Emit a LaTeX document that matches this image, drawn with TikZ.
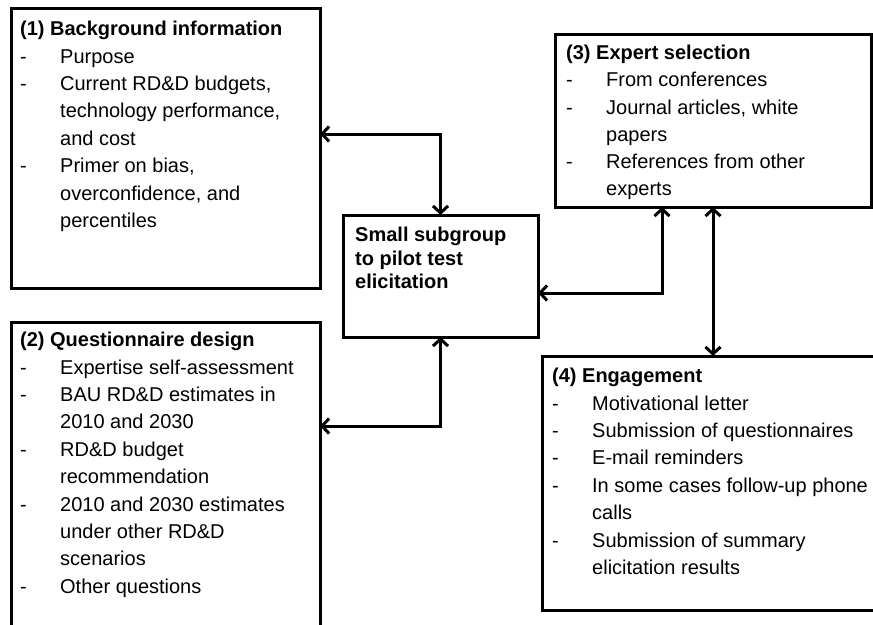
\documentclass[tikz,border=0pt]{standalone}
\usepackage{fontspec}
\setmainfont{Liberation Sans}
\usetikzlibrary{arrows.meta,calc}

% one item of a list, and the continuation of a wrapped item
\newcommand{\itm}[1]{\makebox[40pt][l]{-}#1}
\newcommand{\cnt}[1]{\hspace*{40pt}#1}

\tikzset{
  panel/.style={draw, line width=3pt, inner sep=0pt, outer sep=0pt},
  panetext/.style={anchor=north west, inner sep=0pt, align=left,
    font=\fontsize{20pt}{27.4pt}\selectfont},
  link/.style={line width=3pt,
    {Straight Barb[length=7pt,width=15pt]}-{Straight Barb[length=7pt,width=15pt]}}
}

\begin{document}
\begin{tikzpicture}[x=1pt, y=-1pt]

    % Fix the size of the page
    \clip (0,0) rectangle (873,624);

    % Draw the five boxes
    \node[panel, minimum width=309pt, minimum height=280pt] (bg) at (165.5,148) {};
    \node[panel, minimum width=309pt, minimum height=318pt] (quest) at (165.5,481) {};
    \node[panel, minimum width=316pt, minimum height=173pt] (expert) at (713,120.5) {};
    \node[panel, minimum width=195pt, minimum height=122pt] (pilot) at (440.5,276) {};
    \node[panel, minimum width=342pt, minimum height=254pt] (engage) at (713,483) {};

    % Texts of the boxes
    \node[panetext] (bgtext) at (20,21) {\textbf{(1) Background information}\\
      \itm{Purpose}\\
      \itm{Current RD\&D budgets,}\\
      \cnt{technology performance,}\\
      \cnt{and cost}\\
      \itm{Primer on bias,}\\
      \cnt{overconfidence, and}\\
      \cnt{percentiles}};

    \node[panetext] (questtext) at (20,332) {\textbf{(2) Questionnaire design}\\
      \itm{Expertise self-assessment}\\
      \itm{BAU RD\&D estimates in}\\
      \cnt{2010 and 2030}\\
      \itm{RD\&D budget}\\
      \cnt{recommendation}\\
      \itm{2010 and 2030 estimates}\\
      \cnt{under other RD\&D}\\
      \cnt{scenarios}\\
      \itm{Other questions}};

    \node[panetext, font=\fontsize{20pt}{27.2pt}\selectfont] (experttext) at (566,45) {\textbf{(3) Expert selection}\\
      \itm{From conferences}\\
      \itm{Journal articles, white}\\
      \cnt{papers}\\
      \itm{References from other}\\
      \cnt{experts}};

    \node[panetext, font=\fontsize{20pt}{23.5pt}\selectfont\bfseries] (pilottext) at (355,227) {Small subgroup\\
      to pilot test\\
      elicitation};

    \node[panetext] (engagetext) at (552,368) {\textbf{(4) Engagement}\\
      \itm{Motivational letter}\\
      \itm{Submission of questionnaires}\\
      \itm{E-mail reminders}\\
      \itm{In some cases follow-up phone}\\
      \cnt{calls}\\
      \itm{Submission of summary}\\
      \cnt{elicitation results}};

    % Corners of the connectors
    \coordinate (j1) at (441,134);
    \coordinate (j2) at (662,293);
    \coordinate (j3) at (713,0);
    \coordinate (j4) at (441,426);

    % Draw the connectors
    \draw[link] (bg.east |- j1) -| (pilot.north);
    \draw[link] (pilot.east |- j2) -| (expert.south -| j2);
    \draw[link] (expert.south -| j3) -- (engage.north -| j3);
    \draw[link] (pilot.south) |- (quest.east |- j4);

\end{tikzpicture}
\end{document}
